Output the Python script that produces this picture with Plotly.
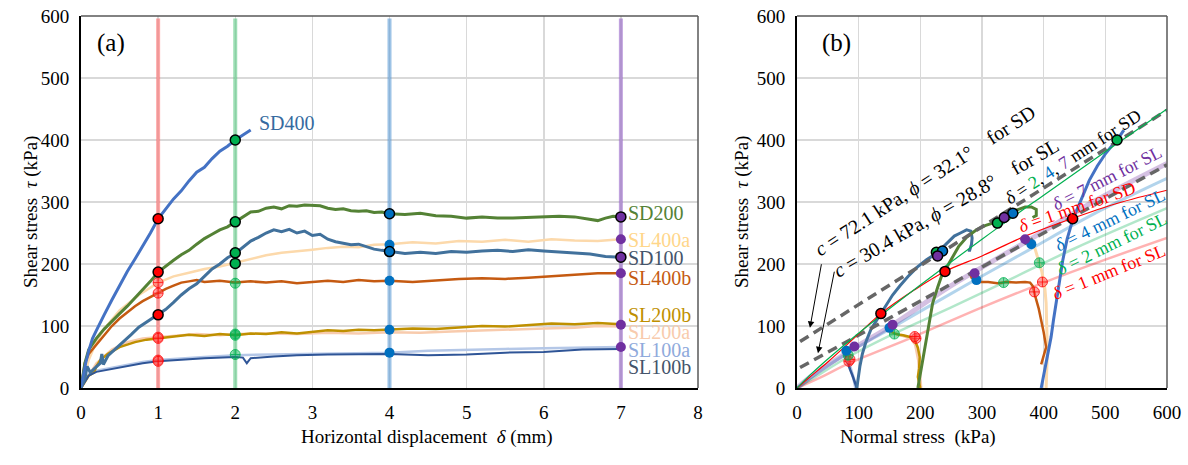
import plotly.graph_objects as go

FONT = "'Liberation Serif', 'Times New Roman', Times, serif"

# ---------------- Panel (a): shear stress vs horizontal displacement ----------------
SD400_a = [(0, 0), (0.03, 20), (0.06, 40), (0.1, 60), (0.15, 80), (0.2, 93), (0.25, 106), (0.3, 118),
           (0.4, 142), (0.5, 166), (0.6, 188), (0.7, 208), (0.8, 228), (0.9, 250), (1.0, 273), (1.1, 290),
           (1.2, 305), (1.3, 318), (1.4, 334), (1.5, 348), (1.6, 356), (1.7, 370), (1.8, 382), (1.9, 390),
           (2.0, 400), (2.1, 408), (2.2, 416)]
SD200_a = [(0, 0), (0.05, 40), (0.1, 62), (0.15, 72), (0.2, 80), (0.3, 95), (0.4, 108), (0.5, 120),
           (0.6, 132), (0.7, 145), (0.8, 158), (0.9, 172), (1.0, 187), (1.1, 197), (1.2, 206), (1.3, 215),
           (1.4, 222), (1.5, 232), (1.6, 241), (1.7, 248), (1.8, 255), (1.9, 260), (2.0, 268), (2.1, 277),
           (2.2, 284), (2.3, 285), (2.4, 290), (2.5, 292), (2.6, 289), (2.7, 294), (2.8, 293), (2.9, 295),
           (3.0, 295), (3.1, 294), (3.2, 290), (3.3, 288), (3.4, 289), (3.5, 286), (3.6, 285), (3.7, 286),
           (3.8, 283), (3.9, 284), (4.0, 281), (4.2, 280), (4.4, 282), (4.6, 278), (4.8, 277), (5.0, 274),
           (5.2, 276), (5.4, 274), (5.6, 274), (5.8, 275), (6.0, 276), (6.2, 277), (6.4, 276), (6.6, 272),
           (6.7, 270), (6.8, 274), (6.9, 277), (7.0, 276)]
SD100_a = [(0, 0), (0.05, 15), (0.08, 35), (0.12, 25), (0.18, 32), (0.25, 40), (0.27, 55), (0.29, 38),
           (0.35, 52), (0.45, 63), (0.55, 75), (0.65, 86), (0.75, 98), (0.85, 106), (0.95, 114), (1.0, 118),
           (1.1, 127), (1.2, 138), (1.3, 150), (1.4, 160), (1.5, 168), (1.6, 180), (1.7, 192), (1.8, 200),
           (1.9, 210), (2.0, 217), (2.1, 227), (2.2, 237), (2.3, 243), (2.4, 250), (2.5, 255), (2.6, 252),
           (2.7, 256), (2.8, 250), (2.9, 253), (3.0, 246), (3.1, 248), (3.2, 240), (3.3, 236), (3.4, 233),
           (3.5, 231), (3.6, 232), (3.7, 228), (3.8, 224), (3.9, 222), (4.0, 220), (4.2, 217), (4.4, 219),
           (4.6, 217), (4.8, 220), (5.0, 219), (5.2, 221), (5.4, 222), (5.6, 220), (5.8, 223), (6.0, 221),
           (6.2, 219), (6.4, 217), (6.6, 216), (6.8, 212), (7.0, 211)]
SL400a_a = [(0, 0), (0.1, 45), (0.2, 75), (0.3, 95), (0.5, 125), (0.75, 150), (1.0, 170), (1.2, 180),
            (1.4, 186), (1.6, 192), (1.8, 196), (2.0, 202), (2.2, 207), (2.4, 214), (2.6, 218), (2.8, 220),
            (3.0, 223), (3.2, 226), (3.4, 228), (3.6, 227), (3.8, 231), (4.0, 232), (4.3, 235), (4.6, 233),
            (4.9, 237), (5.2, 236), (5.5, 239), (5.8, 236), (6.1, 240), (6.4, 238), (6.7, 237), (7.0, 240)]
SL400b_a = [(0, 0), (0.05, 40), (0.1, 55), (0.2, 70), (0.3, 85), (0.4, 100), (0.5, 112), (0.6, 122),
            (0.7, 132), (0.8, 140), (0.9, 147), (1.0, 153), (1.1, 160), (1.2, 165), (1.3, 170), (1.4, 172),
            (1.5, 174), (1.6, 171), (1.8, 173), (2.0, 170), (2.2, 172), (2.4, 170), (2.6, 172), (2.8, 169),
            (3.0, 171), (3.2, 173), (3.4, 171), (3.6, 174), (3.8, 172), (4.0, 173), (4.3, 171), (4.6, 174),
            (4.9, 176), (5.2, 177), (5.5, 176), (5.8, 178), (6.1, 180), (6.4, 183), (6.7, 185), (7.0, 185)]
SL200b_a = [(0, 0), (0.1, 20), (0.17, 25), (0.2, 35), (0.25, 45), (0.35, 55), (0.5, 66), (0.7, 74),
            (0.85, 78), (1.0, 80), (1.2, 83), (1.4, 86), (1.6, 84), (1.8, 87), (2.0, 85), (2.2, 88),
            (2.4, 87), (2.6, 90), (2.8, 88), (3.0, 91), (3.2, 93), (3.4, 92), (3.6, 94), (3.8, 93),
            (4.0, 94), (4.3, 96), (4.6, 95), (4.9, 98), (5.2, 100), (5.5, 99), (5.8, 102), (6.1, 104),
            (6.4, 103), (6.7, 105), (7.0, 103)]
SL200a_a = [(0, 0), (0.2, 40), (0.4, 62), (0.6, 74), (0.8, 80), (1.0, 82), (1.2, 84), (1.5, 87),
            (1.8, 85), (2.0, 87), (2.4, 88), (2.8, 87), (3.2, 89), (3.6, 88), (4.0, 90), (4.4, 89),
            (4.8, 91), (5.2, 93), (5.6, 94), (6.0, 96), (6.4, 97), (6.7, 100), (7.0, 99)]
SL100a_a = [(0, 0), (0.1, 22), (0.2, 28), (0.4, 33), (0.6, 38), (0.8, 42), (1.0, 45), (1.3, 48),
            (1.6, 50), (2.0, 53), (2.4, 54), (2.8, 55), (3.2, 56), (3.6, 57), (4.0, 57), (4.5, 60),
            (5.0, 62), (5.5, 63), (6.0, 64), (6.5, 65), (7.0, 66)]
SL100b_a = [(0, 0), (0.1, 20), (0.2, 26), (0.4, 31), (0.6, 36), (0.8, 40), (1.0, 43), (1.3, 46),
            (1.6, 48), (2.0, 50), (2.1, 49), (2.15, 40), (2.2, 48), (2.5, 51), (2.8, 53), (3.2, 54),
            (3.6, 55), (4.0, 55), (4.5, 53), (5.0, 54), (5.5, 57), (6.0, 58), (6.5, 62), (7.0, 63)]

series_a = [
    ("SL400a", SL400a_a, "#fcd9ab", 2.5),
    ("SL200a", SL200a_a, "#f8cbad", 2.5),
    ("SL100a", SL100a_a, "#b4c7e7", 2.5),
    ("SL400b", SL400b_a, "#c55a11", 2.5),
    ("SL200b", SL200b_a, "#bf9000", 2.5),
    ("SL100b", SL100b_a, "#2f5597", 2.0),
    ("SD100", SD100_a, "#41719c", 3),
    ("SD200", SD200_a, "#548235", 3),
    ("SD400", SD400_a, "#4472c4", 3),
]

label_names = ["SD200", "SL400a", "SD100", "SL400b", "SL200b", "SL200a", "SL100a", "SL100b"]
label_tau = [282, 239, 210, 177, 118, 90, 61, 34]
label_colors = ["#548235", "#ffd68a", "#44546a", "#c55a11", "#bf9000", "#f8cbad", "#8faadc", "#44546a"]

band_delta = [1, 2, 4, 7]
band_colors = ["rgba(255,110,110,0.6)", "rgba(90,200,130,0.6)", "rgba(91,155,213,0.6)", "rgba(150,100,200,0.6)"]

a_sd_tau = {1: [273, 187, 118], 2: [400, 268, 218, 201], 4: [281, 220], 7: [276, 211]}
a_sl_tau = {1: [170, 153, 82, 80, 45, 43], 2: [169, 87, 85, 54], 4: [231, 173, 94, 57], 7: [240, 185, 102, 66]}

mk_fill = {1: "#ff0000", 2: "#00b050", 4: "#0070c0", 7: "#7030a0"}
mk_light = {1: "rgba(255,90,90,0.55)", 2: "rgba(0,176,80,0.45)"}
mk_line = {1: "rgba(255,0,0,0.75)", 2: "rgba(0,176,80,0.75)"}

# ---------------- Panel (b): shear stress vs normal stress ----------------
SD400_b = [(396, 0), (400, 20), (404, 40), (408, 62), (412, 82), (416, 110), (420, 137), (425, 170),
           (431, 206), (438, 240), (447, 271), (455, 290), (465, 315), (474, 335), (487, 358), (501, 379),
           (510, 390), (519, 400), (530, 416)]
SD200_b = [(196, 0), (198, 12), (202, 29), (205, 50), (210, 82), (215, 110), (220, 137), (228, 162),
           (236, 185), (243, 195), (252, 210), (262, 228), (275, 243), (291, 255), (305, 262), (323, 268),
           (340, 278), (356, 287), (370, 292), (380, 292), (388, 288), (388, 278), (382, 275)]
SD100_b = [(97, 0), (99, 15), (102, 35), (106, 55), (112, 75), (120, 95), (128, 108), (136, 120),
           (145, 135), (155, 150), (167, 165), (180, 180), (195, 195), (210, 207), (226, 217), (240, 230),
           (255, 245), (265, 250), (275, 255), (282, 253), (284, 242), (283, 232), (280, 222), (277, 222)]
SL100b_b = [(97, 0), (94, 10), (90, 20), (86, 30), (82, 40), (79, 50), (78, 58), (80, 62)]
SL100a_b = [(95, 0), (92, 15), (88, 28), (84, 42), (82, 55), (84, 64), (92, 68)]
SL200b_b = [(200, 0), (198, 10), (196, 18), (198, 32), (199, 50), (196, 65), (191, 77), (185, 82),
            (178, 84), (172, 85), (165, 86), (158, 88), (152, 92), (150, 97)]
SL200a_b = [(201, 0), (199, 20), (197, 45), (192, 70), (185, 80), (170, 85), (155, 88), (147, 92), (145, 95)]
SL400b_b = [(396, 38), (400, 52), (404, 66), (400, 90), (396, 110), (392, 128), (388, 142), (385, 155),
            (382, 165), (378, 170), (370, 171), (355, 170), (340, 171), (325, 169), (310, 171), (296, 171),
            (288, 175), (283, 178), (281, 185)]
SL400a_b = [(404, 0), (405, 30), (406, 56), (405, 100), (404, 137), (402, 160), (400, 171), (397, 188),
            (393, 201), (389, 215), (385, 228), (380, 234), (372, 240)]

paths_b = [
    (SL400a_b, "#fcd9ab", 3),
    (SL200a_b, "#f8cbad", 3),
    (SL100a_b, "#b4c7e7", 3),
    (SL400b_b, "#c55a11", 2.5),
    (SL200b_b, "#bf9000", 2.5),
    (SL100b_b, "#2f5597", 2.5),
    (SD100_b, "#41719c", 3),
    (SD200_b, "#548235", 3),
    (SD400_b, "#4472c4", 3),
]

fit_d1_SL = [(0, 0), (40, 18), (85, 40), (190, 83), (300, 130), (400, 170), (500, 207), (600, 242)]
fit_d2_SL = [(0, 0), (30, 18), (83, 50), (158, 88), (250, 130), (335, 170), (450, 225), (600, 290)]
fit_d4_SL = [(0, 0), (30, 22), (80, 55), (150, 95), (290, 175), (375, 222), (480, 280), (600, 338)]
fit_d7_SL = [(0, 0), (30, 24), (94, 65), (155, 102), (250, 165), (370, 235), (480, 300), (600, 362)]
fit_d1_SD = [(0, 0), (20, 17), (50, 42), (90, 78), (136, 120), (190, 158), (240, 188), (300, 213),
             (370, 245), (445, 273), (520, 298), (600, 319)]
fit_d247_SD = [(0, 0), (20, 20), (81, 73), (136, 117), (200, 166), (300, 240), (400, 311), (500, 381), (600, 450)]

env_sigma = [5, 600]
env_SD_tau = [75, 448]
env_SL_tau = [33, 360]

b_sd = {1: [(136, 120), (240, 188), (447, 273)],
        2: [(226, 219), (325, 266), (519, 400)],
        4: [(236, 221), (350, 282)],
        7: [(228, 213), (336, 275)]}
b_sl = {1: [(84, 43), (86, 46), (193, 80), (191, 83), (385, 155), (398, 171)],
        2: [(83, 53), (158, 87), (335, 170), (393, 202)],
        4: [(80, 60), (150, 97), (291, 174), (380, 232)],
        7: [(93, 67), (155, 102), (288, 185), (370, 240)]}


def unz(pairs):
    return [p[0] for p in pairs], [p[1] for p in pairs]


fig = go.Figure()

for d, c in zip(band_delta, band_colors):
    fig.add_trace(go.Scatter(x=[d, d], y=[0, 596], mode="lines", line=dict(color=c, width=4),
                             xaxis="x", yaxis="y", hoverinfo="skip"))

for name, data, col, w in series_a:
    xs, ys = unz(data)
    fig.add_trace(go.Scatter(x=xs, y=ys, mode="lines", line=dict(color=col, width=w),
                             xaxis="x", yaxis="y", hoverinfo="skip"))

for d in band_delta:
    sl = a_sl_tau[d]
    if d in mk_light:
        mk = dict(symbol="circle-cross", size=10, color=mk_light[d], line=dict(color=mk_line[d], width=1))
    else:
        mk = dict(symbol="circle", size=10, color=mk_fill[d], line=dict(width=0))
    fig.add_trace(go.Scatter(x=[d] * len(sl), y=sl, mode="markers", marker=mk, xaxis="x", yaxis="y",
                             hoverinfo="skip"))
    sd = a_sd_tau[d]
    fig.add_trace(go.Scatter(x=[d] * len(sd), y=sd, mode="markers",
                             marker=dict(symbol="circle", size=10, color=mk_fill[d],
                                         line=dict(color="black", width=1.5)),
                             xaxis="x", yaxis="y", hoverinfo="skip"))

fits = [
    (fit_d1_SL, "rgba(255,0,0,0.3)", 2.5),
    (fit_d2_SL, "rgba(0,176,80,0.3)", 2.5),
    (fit_d4_SL, "rgba(0,112,192,0.3)", 3),
    (fit_d7_SL, "rgba(112,48,160,0.3)", 5),
]
for data, col, w in fits:
    xs, ys = unz(data)
    fig.add_trace(go.Scatter(x=xs, y=ys, mode="lines", line=dict(color=col, width=w, shape="spline"),
                             xaxis="x2", yaxis="y2", hoverinfo="skip"))

for data, col, w in paths_b:
    xs, ys = unz(data)
    fig.add_trace(go.Scatter(x=xs, y=ys, mode="lines", line=dict(color=col, width=w),
                             xaxis="x2", yaxis="y2", hoverinfo="skip"))

for tau in (env_SD_tau, env_SL_tau):
    fig.add_trace(go.Scatter(x=env_sigma, y=tau, mode="lines",
                             line=dict(color="#666666", width=3.5, dash="10px,6px"),
                             xaxis="x2", yaxis="y2", hoverinfo="skip"))

for data, col, w in [(fit_d1_SD, "#ff0000", 1.2), (fit_d247_SD, "#00b050", 1.2)]:
    xs, ys = unz(data)
    fig.add_trace(go.Scatter(x=xs, y=ys, mode="lines", line=dict(color=col, width=w, shape="spline"),
                             xaxis="x2", yaxis="y2", hoverinfo="skip"))

for d in band_delta:
    xs, ys = unz(b_sl[d])
    if d in mk_light:
        mk = dict(symbol="circle-cross", size=10, color=mk_light[d], line=dict(color=mk_line[d], width=1))
    else:
        mk = dict(symbol="circle", size=10, color=mk_fill[d], line=dict(width=0))
    fig.add_trace(go.Scatter(x=xs, y=ys, mode="markers", marker=mk, xaxis="x2", yaxis="y2", hoverinfo="skip"))
for d in band_delta:
    xs, ys = unz(b_sd[d])
    fig.add_trace(go.Scatter(x=xs, y=ys, mode="markers",
                             marker=dict(symbol="circle", size=10, color=mk_fill[d],
                                         line=dict(color="black", width=1.5)),
                             xaxis="x2", yaxis="y2", hoverinfo="skip"))

# ---------------- annotations ----------------
ann = []
NB = "\u00a0"
for n, t, c in zip(label_names, label_tau, label_colors):
    ann.append(dict(x=7.06, y=t, xref="x", yref="y", text=n, showarrow=False, xanchor="left",
                    font=dict(family=FONT, size=20, color=c)))
ann.append(dict(x=2.28, y=427, xref="x", yref="y", text="SD400", showarrow=False, xanchor="left",
                font=dict(family=FONT, size=20, color="#356aa0")))
ann.append(dict(x=0.18, y=556, xref="x", yref="y", text="(a)", showarrow=False, xanchor="left",
                font=dict(family=FONT, size=25, color="black")))
ann.append(dict(x=37, y=556, xref="x2", yref="y2", text="(b)", showarrow=False, xanchor="left",
                font=dict(family=FONT, size=25, color="black")))

ann.append(dict(x=209, y=334, xref="x2", yref="y2", textangle=-33, showarrow=False,
                text="<i>c</i> = 72.1 kPa, <i>ϕ</i> = 32.1°" + NB * 4 + "for SD",
                font=dict(family=FONT, size=20, color="black")))
ann.append(dict(x=241, y=290, xref="x2", yref="y2", textangle=-30, showarrow=False,
                text="<i>c</i> = 30.4 kPa, <i>ϕ</i> = 28.8°" + NB * 4 + "for SL",
                font=dict(family=FONT, size=20, color="black")))
ann.append(dict(x=447, y=373, xref="x2", yref="y2", textangle=-33, showarrow=False,
                text="<i>δ</i> = <span style='color:#00b050'>2</span>, <span style='color:#0070c0'>4</span>, "
                     "<span style='color:#7030a0'>7</span> mm for SD",
                font=dict(family=FONT, size=18, color="black")))
dl = [
    ("<i>δ</i> = 7 mm for SL", 503, 339, -27, "#7030a0"),
    ("<i>δ</i> = 1 mm for SD", 454, 292, -19, "#ff0000"),
    ("<i>δ</i> = 4 mm for SL", 508, 271, -26, "#0070c0"),
    ("<i>δ</i> = 2 mm for SL", 510, 232, -26, "#00b050"),
    ("<i>δ</i> = 1 mm for SL", 506, 187, -22, "#ff0000"),
]
for t, x, y, a, c in dl:
    ann.append(dict(x=x, y=y, xref="x2", yref="y2", textangle=a, showarrow=False, text=t,
                    font=dict(family=FONT, size=18, color=c)))

ann.append(dict(x=21, y=97, ax=40, ay=202, xref="x2", yref="y2", axref="x2", ayref="y2", text="",
                showarrow=True, arrowhead=2, arrowsize=1.3, arrowwidth=1, arrowcolor="black"))
ann.append(dict(x=34, y=56, ax=61, ay=190, xref="x2", yref="y2", axref="x2", ayref="y2", text="",
                showarrow=True, arrowhead=2, arrowsize=1.3, arrowwidth=1, arrowcolor="black"))

# figure fills the whole 1188x465 window (page body margin removed in post_script)
OFF = 0
W, H = 1188, 465


def px(sx):
    return (sx - OFF) / W


def py(sy):
    return 1 - (sy - OFF) / H


ann.append(dict(x=px(18), y=py(212), xref="paper", yref="paper", textangle=-90, showarrow=False,
                text="Shear stress" + NB * 2 + "<i>τ</i> (kPa)", font=dict(family=FONT, size=19, color="black")))
ann.append(dict(x=px(742), y=py(212), xref="paper", yref="paper", textangle=-90, showarrow=False,
                text="Shear stress" + NB * 2 + "<i>τ</i> (kPa)", font=dict(family=FONT, size=19, color="black")))
ann.append(dict(x=px(427), y=py(450), xref="paper", yref="paper", showarrow=False,
                text="Horizontal displacement" + NB * 2 + "<i>δ</i> (mm)", font=dict(family=FONT, size=19, color="black")))
ann.append(dict(x=px(998), y=py(450), xref="paper", yref="paper", showarrow=False,
                text="Normal stress" + NB * 2 + "(kPa)", font=dict(family=FONT, size=19, color="black")))

shapes = []
for xr, yr in [("x domain", "y domain"), ("x2 domain", "y2 domain")]:
    shapes.append(dict(type="line", xref=xr, yref=yr, x0=0, x1=1, y0=1, y1=1, line=dict(color="#595959", width=1.5)))
    shapes.append(dict(type="line", xref=xr, yref=yr, x0=1, x1=1, y0=0, y1=1, line=dict(color="#595959", width=1.5)))

ydom = [py(388), py(16)]
ax_common = dict(showgrid=True, gridcolor="#d9d9d9", gridwidth=1.5, zeroline=False, showline=True,
                 linecolor="black", linewidth=2, ticks="outside", ticklen=6, tickcolor="rgba(0,0,0,0)",
                 automargin=False, ticklabeloverflow="allow",
                 tickfont=dict(family=FONT, size=19, color="black"))

fig.update_layout(
    width=W, height=H, margin=dict(l=0, r=0, t=0, b=0, autoexpand=False), showlegend=False,
    plot_bgcolor="white", paper_bgcolor="white",
    font=dict(family=FONT),
    xaxis=dict(domain=[px(81), px(698)], range=[0, 8], dtick=1, anchor="y", **ax_common),
    yaxis=dict(domain=ydom, range=[0, 600], dtick=100, anchor="x", **ax_common),
    xaxis2=dict(domain=[px(797), px(1167)], range=[0, 600], dtick=100, anchor="y2", **ax_common),
    yaxis2=dict(domain=ydom, range=[0, 600], dtick=100, anchor="x2", **ax_common),
    annotations=ann, shapes=shapes,
)

fig.write_html("out.html", config={"displayModeBar": False, "staticPlot": True},
               post_script="document.body.style.margin='0px';document.body.style.overflow='hidden';")
